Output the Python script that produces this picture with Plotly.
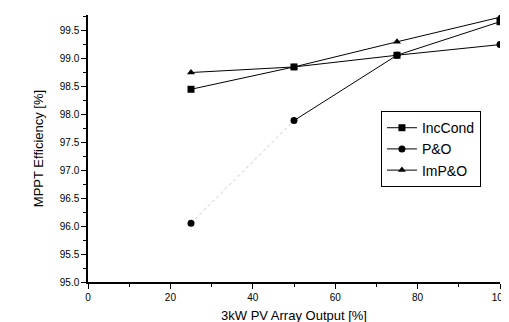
import plotly.graph_objects as go

x_vals = [25, 50, 75, 100]
inccond = [98.45, 98.85, 99.06, 99.66]
pando = [96.05, 97.89, 99.06, 99.25]
impando = [98.75, 98.85, 99.30, 99.74]

y_ticks = [95.0, 95.5, 96.0, 96.5, 97.0, 97.5, 98.0, 98.5, 99.0, 99.5]
y_ticklabels = ["95.0", "95.5", "96.0", "96.5", "97.0", "97.5", "98.0", "98.5", "99.0", "99.5"]
x_ticks = [0, 20, 40, 60, 80, 100]

FONT = "Liberation Sans"

fig = go.Figure()
fig.add_trace(go.Scatter(x=x_vals, y=inccond, name="IncCond", mode="lines+markers",
                         line=dict(color="black", width=1),
                         marker=dict(symbol="square", size=7, color="black")))
# faint first segment of P&O (barely visible in the original scan)
fig.add_trace(go.Scatter(x=x_vals[:2], y=pando[:2], mode="lines", showlegend=False,
                         hoverinfo="skip",
                         line=dict(color="#c8c8c8", width=1, dash="dot")))
fig.add_trace(go.Scatter(x=x_vals[:1], y=pando[:1], mode="markers", showlegend=False,
                         hoverinfo="skip",
                         marker=dict(symbol="circle", size=7, color="black")))
fig.add_trace(go.Scatter(x=x_vals[1:], y=pando[1:], name="P&O", mode="lines+markers",
                         line=dict(color="black", width=1),
                         marker=dict(symbol="circle", size=7, color="black")))
fig.add_trace(go.Scatter(x=x_vals, y=impando, name="ImP&O", mode="lines+markers",
                         line=dict(color="black", width=1),
                         marker=dict(symbol="triangle-up", size=7, color="black")))

axis_common = dict(showline=True, linecolor="black", linewidth=1.5, showgrid=False,
                   zeroline=False, ticks="outside", ticklen=5, tickwidth=1, tickcolor="black",
                   tickfont=dict(family=FONT, size=10, color="black"))

fig.update_xaxes(range=[0, 100], tickvals=x_ticks,
                 minor=dict(dtick=10, ticks="outside", ticklen=3, tickcolor="black"),
                 title=dict(text="3kW PV Array Output [%]", font=dict(family=FONT, size=13, color="black"), standoff=9),
                 **axis_common)
fig.update_yaxes(range=[95.0, 99.78], tickvals=y_ticks, ticktext=y_ticklabels,
                 minor=dict(tick0=95.0, dtick=0.25, ticks="outside", ticklen=3, tickcolor="black"),
                 title=dict(text="MPPT Efficiency [%]", font=dict(family=FONT, size=13, color="black"), standoff=13),
                 **axis_common)

fig.update_layout(
    width=509, height=322,
    margin=dict(l=80, r=17, t=7, b=48),
    paper_bgcolor="white", plot_bgcolor="white",
    showlegend=True,
    legend=dict(x=0.711, y=0.64, xanchor="left", yanchor="top",
                bordercolor="black", borderwidth=1, bgcolor="white",
                font=dict(family=FONT, size=14, color="black"),
                tracegroupgap=0),
)

fig.write_html("out.html")
